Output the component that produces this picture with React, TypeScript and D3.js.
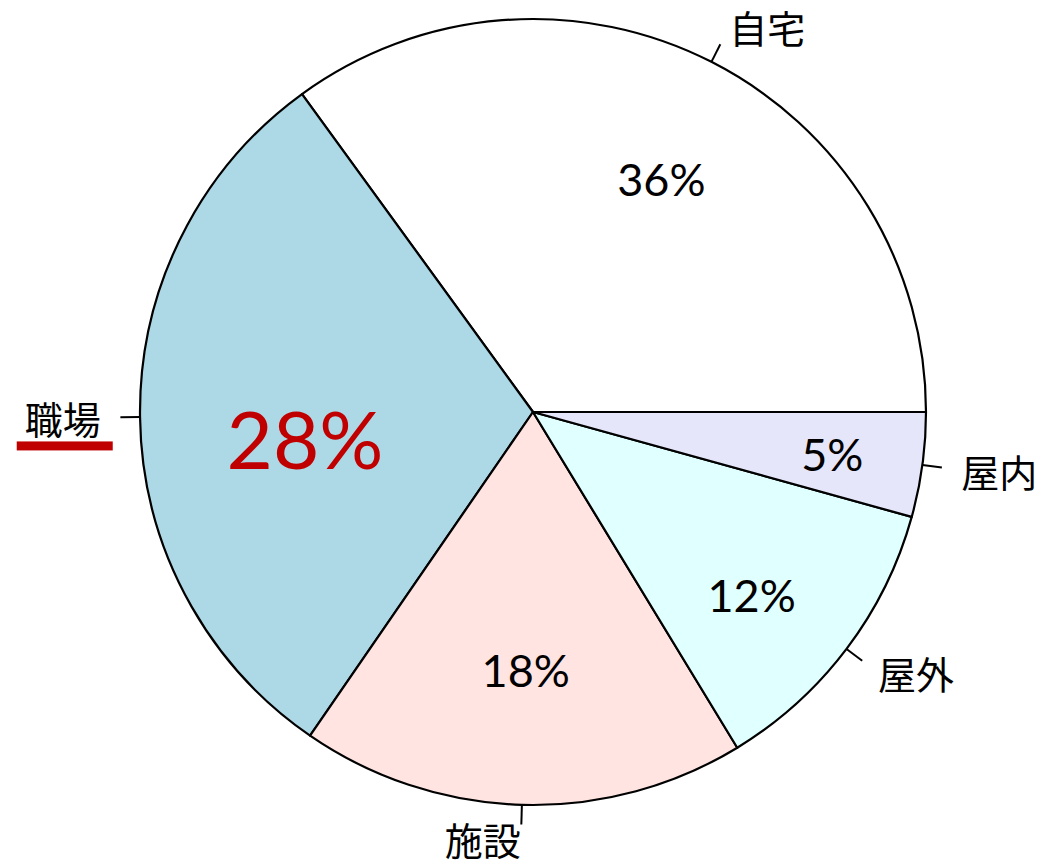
import React from "react";
import * as d3 from "d3";

const categories = ["自宅", "職場", "施設", "屋外", "屋内"];
const values = [35.0, 30.4, 18.3, 12.0, 4.3];
const pctLabels = ["36%", "28%", "18%", "12%", "5%"];
const colors = ["#ffffff", "#add8e6", "#ffe4e1", "#e0ffff", "#e6e6fa"];
const highlightIndex = 1;

// layout of the percentage labels (fraction of radius, angle shift in degrees, clockwise positive)
const pctRadius = [0.678, 0.584, 0.656, 0.726, 0.769];
const pctAngleShift = [1.8, -5.9, 0, 2.9, 0.3];

const W = 1046;
const H = 868;
const cx = 533;
const cy = 412;
const R = 393;

export default function App() {
  const pie = d3
    .pie<number>()
    .sort(null)
    .value((d) => d)
    .startAngle(Math.PI / 2)
    .endAngle(Math.PI / 2 - 2 * Math.PI);
  const arcs = pie(values);
  const arcGen = d3.arc<d3.PieArcDatum<number>>().innerRadius(0).outerRadius(R);

  const polar = (theta: number, r: number) => [r * Math.sin(theta), -r * Math.cos(theta)];

  return (
    <svg
      width={W}
      height={H}
      style={{ position: "absolute", left: 0, top: 0, background: "#fff" }}
    >
      <g transform={`translate(${cx},${cy})`}>
        {arcs.map((a, i) => (
          <path
            key={"s" + i}
            d={arcGen(a) || ""}
            fill={colors[i]}
            stroke="#000"
            strokeWidth={2.2}
            strokeLinejoin="round"
          />
        ))}
        {arcs.map((a, i) => {
          const mid = (a.startAngle + a.endAngle) / 2;
          const [x1, y1] = polar(mid, R);
          const [x2, y2] = polar(mid, R * 1.05);
          const [lx, ly] = polar(mid, R * 1.1);
          const anchor = lx >= 0 ? "start" : "end";
          return (
            <g key={"l" + i}>
              <line x1={x1} y1={y1} x2={x2} y2={y2} stroke="#000" strokeWidth={2} />
              <text
                x={lx}
                y={ly - (ly > R ? 6 : 0)}
                textAnchor={anchor}
                dominantBaseline="central"
                fontFamily="'Noto Sans CJK JP', sans-serif"
                fontSize={38}
                fill="#000"
              >
                {categories[i]}
              </text>
              {i === highlightIndex && (
                <rect x={lx - 84} y={ly + 24} width={96} height={9} fill="#c00000" />
              )}
            </g>
          );
        })}
        {arcs.map((a, i) => {
          const mid = (a.startAngle + a.endAngle) / 2 + (pctAngleShift[i] * Math.PI) / 180;
          const [px, py] = polar(mid, R * pctRadius[i]);
          const hl = i === highlightIndex;
          return (
            <text
              key={"p" + i}
              x={px}
              y={py}
              textAnchor="middle"
              dominantBaseline="central"
              fontFamily="Lato, 'Open Sans', sans-serif"
              fontSize={hl ? 80 : 45}
              fill={hl ? "#c00000" : "#000"}
            >
              {pctLabels[i]}
            </text>
          );
        })}
      </g>
    </svg>
  );
}
